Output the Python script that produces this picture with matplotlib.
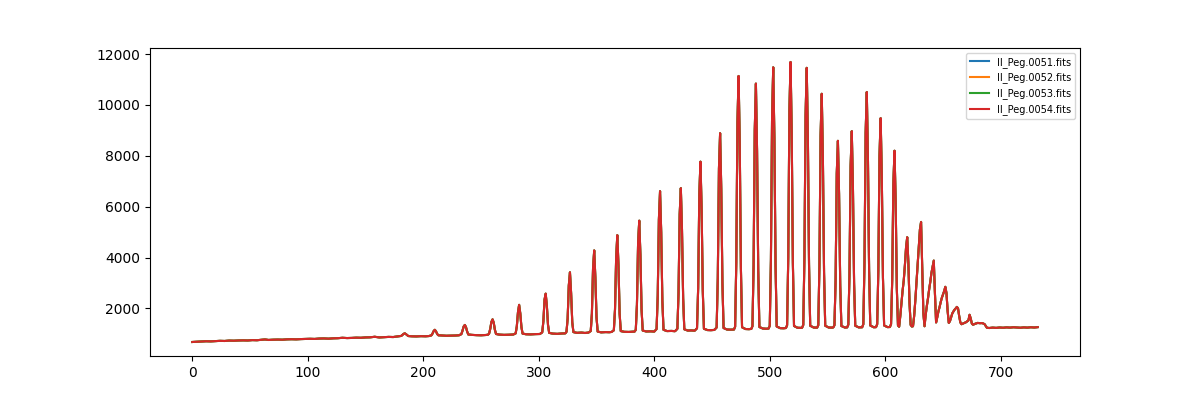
import matplotlib
matplotlib.use("Agg")
import matplotlib.pyplot as plt

files = ["II_Peg.0051.fits", "II_Peg.0052.fits", "II_Peg.0053.fits", "II_Peg.0054.fits"]

# pixel positions along the extracted spectrum and counts
pixel = [0, 4, 8, 12, 16, 20, 24, 28, 32, 36, 40, 44, 48, 52, 56, 60, 63, 66, 70, 74, 78, 82, 86, 90,
         94, 98, 102, 106, 110, 114, 118, 122, 126, 130, 134, 138, 142, 146, 150, 154, 158, 162, 166, 170, 174, 178,
         181, 182, 183, 184, 185, 186, 187,
         190, 194, 198, 202, 205,
         207, 208, 209, 210, 211, 212, 213,
         216, 220, 224, 228, 231,
         233, 234, 235, 236, 237, 238, 239,
         242, 246, 250, 254, 256,
         257, 258, 259, 260, 261, 262, 263,
         266, 270, 274, 278,
         280, 281, 282, 283, 284, 285, 286,
         289, 293, 297, 301,
         303, 304, 305, 306, 307, 308, 309,
         312, 316, 320, 323,
         324, 325, 326, 327, 328, 329, 330,
         333, 337, 340, 343,
         345, 346, 347, 348, 349, 350, 351,
         354, 358, 361, 363,
         365, 366, 367, 368, 369, 370, 371,
         374, 378, 381, 383,
         384, 385, 386, 387, 388, 389, 390,
         393, 397, 400,
         402, 403, 404, 405, 406, 407, 408,
         411, 415, 418,
         420, 421, 422, 423, 424, 425, 426,
         429, 432, 435,
         437, 438, 439, 440, 441, 442, 443,
         446, 449, 452,
         454, 455, 456, 457, 458, 459, 460,
         463, 466, 469,
         470, 471, 472, 473, 474, 475, 476,
         479, 482, 484,
         485, 486, 487, 488, 489, 490, 491,
         494, 497, 499,
         500, 501, 502, 503, 504, 505, 506,
         509, 512, 514,
         515, 516, 517, 518, 519, 520, 521,
         524, 527, 528,
         529, 530, 531, 532, 533, 534, 535,
         538, 541,
         542, 543, 544, 545, 546, 547, 548,
         551, 554, 555,
         556, 557, 558, 559, 560, 561, 562,
         565, 567,
         568, 569, 570, 571, 572, 573, 574,
         577, 580,
         581, 582, 583, 584, 585, 586, 587,
         590, 592,
         593, 594, 595, 596, 597, 598, 599,
         602, 604,
         605, 606, 607, 608, 609, 610, 611,
         612,
         613, 614, 615, 616, 617, 618, 619, 620, 621, 622, 623,
         624, 625, 626, 627, 628, 629, 630, 631, 632, 633, 634,
         635, 636, 637, 638, 639, 640, 641, 642, 643, 644,
         645, 646, 647, 648, 649, 650, 651, 652, 653, 654, 655,
         656, 657, 658, 659, 660, 661, 662, 663, 664, 665, 666,
         668, 670, 672, 673, 674, 675, 676,
         678, 680, 682, 684, 686, 688,
         690, 693, 696, 699, 702, 705, 708, 711, 714, 717, 720, 723, 726, 729, 732]

counts = [680, 690, 700, 710, 705, 715, 725, 720, 735, 730, 740, 745, 740, 755, 750, 765, 780, 760, 770, 775, 770, 785, 790, 785,
          795, 800, 805, 800, 815, 820, 810, 825, 830, 845, 835, 840, 850, 845, 860, 865, 885, 860, 870, 880, 875, 900,
          920, 960, 1000, 1020, 990, 950, 915,
          905, 900, 910, 905, 915,
          940, 1010, 1110, 1160, 1100, 1000, 945,
          935, 925, 930, 935, 945,
          990, 1130, 1290, 1350, 1260, 1090, 975,
          960, 950, 945, 955, 965,
          1010, 1200, 1470, 1570, 1440, 1160, 995,
          970, 960, 965, 975,
          1020, 1300, 1850, 2140, 1800, 1260, 1010,
          985, 980, 990, 995,
          1060, 1500, 2350, 2580, 2100, 1350, 1040,
          1010, 1000, 1015, 1020,
          1080, 1600, 2900, 3420, 2600, 1450, 1070,
          1040, 1050, 1035, 1050,
          1110, 1800, 3600, 4280, 3200, 1650, 1090,
          1060, 1070, 1065, 1075,
          1140, 1950, 4000, 4880, 3700, 1800, 1110,
          1080, 1075, 1085, 1090,
          1160, 2150, 4600, 5450, 4100, 1950, 1130,
          1095, 1100, 1090,
          1190, 2500, 5500, 6610, 5000, 2300, 1160,
          1110, 1115, 1105,
          1200, 2600, 5700, 6730, 5100, 2400, 1180,
          1130, 1135, 1125,
          1220, 2800, 6500, 7770, 5900, 2700, 1200,
          1150, 1145, 1155,
          1250, 3200, 7500, 8890, 6700, 3000, 1230,
          1170, 1165, 1170,
          1280, 3800, 9300, 11140, 8500, 3600, 1260,
          1190, 1185, 1195,
          1300, 3700, 9000, 10840, 8200, 3500, 1270,
          1210, 1200, 1210,
          1320, 3900, 9600, 11480, 8700, 3700, 1290,
          1225, 1220, 1230,
          1340, 4000, 9800, 11690, 8900, 3800, 1310,
          1240, 1235, 1245,
          1350, 4000, 9600, 11460, 8700, 3700, 1320,
          1250, 1245,
          1340, 3700, 8800, 10440, 7900, 3400, 1320,
          1250, 1245, 1255,
          1340, 3100, 7300, 8590, 6500, 2900, 1310,
          1250, 1255,
          1360, 3300, 7600, 8970, 6800, 3000, 1320,
          1255, 1260,
          1380, 3800, 8900, 10510, 7900, 3500, 1330,
          1260, 1265,
          1380, 3500, 8000, 9480, 7200, 3200, 1330,
          1265, 1270,
          1380, 3100, 6900, 8200, 6200, 2800, 1330,
          1280,
          1700, 2200, 2700, 3100, 3700, 4400, 4800, 3800, 2200, 1350, 1290,
          1300, 1700, 2300, 3000, 3700, 4400, 5100, 5400, 3600, 1800, 1300,
          1750, 2100, 2400, 2750, 3050, 3400, 3650, 3880, 2600, 1450,
          1650, 1880, 2050, 2250, 2420, 2550, 2680, 2850, 2600, 1900, 1430,
          1500, 1650, 1800, 1880, 1950, 2000, 2060, 2000, 1700, 1450, 1380,
          1420, 1460, 1530, 1750, 1600, 1400, 1360,
          1400, 1430, 1420, 1425, 1380, 1240,
          1230, 1245, 1235, 1250, 1240, 1255, 1245, 1260, 1250, 1240, 1255, 1245, 1260, 1250, 1265]

fig, ax = plt.subplots(figsize=(12, 4))
for name in files:
    ax.plot(pixel, counts, label=name)
ax.legend(fontsize=7)
fig.savefig("out.png", dpi=100)
